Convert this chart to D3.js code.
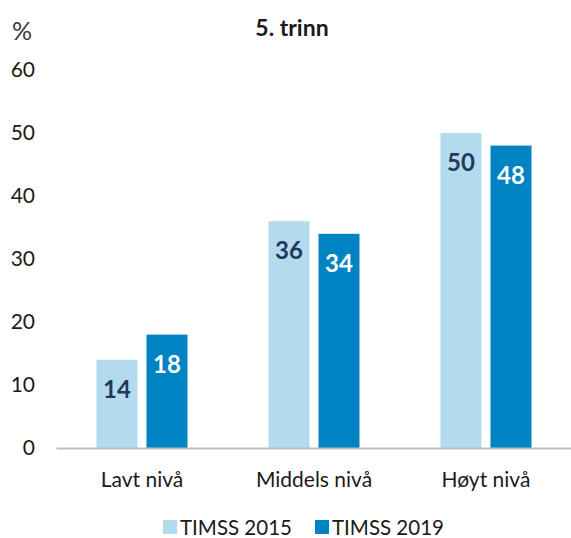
<!DOCTYPE html>
<html>
<head>
<meta charset="utf-8">
<script src="https://cdn.jsdelivr.net/npm/d3@7"></script>
<style>
  html, body { margin: 0; padding: 0; background: #fff; }
  svg { display: block; font-family: Lato, "Open Sans", sans-serif; }
</style>
</head>
<body>
<svg id="chart" width="571" height="538"></svg>
<script>
// Share of pupils per achievement level, 5th grade
const categories = ["Lavt nivå", "Middels nivå", "Høyt nivå"];
const seriesNames = ["TIMSS 2015", "TIMSS 2019"];
const values2015 = [14, 36, 50];
const values2019 = [18, 34, 48];
const yTicks = [0, 10, 20, 30, 40, 50, 60];

const colors = ["#b4daee", "#0083c2"];
const labelColors = ["#1f3a60", "#ffffff"];

const svg = d3.select("#chart");
const baseY = 448;
const topY = 70;
const pairWidth = 91;

const x = d3.scaleBand().domain(categories).range([56, 572]);
const xs = d3.scaleBand().domain(seriesNames).range([0, pairWidth]).paddingInner(0.18);
const y = d3.scaleLinear().domain([0, 60]).range([baseY, topY]);

// Title and unit
svg.append("text").attr("x", 292).attr("y", 36).attr("text-anchor", "middle")
  .attr("font-size", 23).attr("font-weight", "bold").attr("fill", "#1a1a1a").text("5. trinn");
svg.append("text").attr("x", 12).attr("y", 40)
  .attr("font-size", 25).attr("fill", "#3a3a3a").text("%");

// Y axis labels (no line)
const yAxis = d3.axisLeft(y).tickValues(yTicks).tickSize(0).tickPadding(0);
const gy = svg.append("g").attr("transform", "translate(35,0)").call(yAxis);
gy.select(".domain").remove();
gy.selectAll("text").attr("font-size", 21).attr("fill", "#1a1a1a")
  .attr("font-family", "Lato, 'Open Sans', sans-serif");

const series = [values2015, values2019];

// Bars
const groups = svg.append("g");
categories.forEach((cat, i) => {
  const g = groups.append("g").attr("transform", `translate(${x(cat) + (x.bandwidth() - pairWidth) / 2},0)`);
  seriesNames.forEach((s, j) => {
    const v = series[j][i];
    g.append("rect")
      .attr("x", xs(s)).attr("y", y(v))
      .attr("width", xs.bandwidth()).attr("height", baseY - y(v))
      .attr("fill", colors[j]);
    g.append("text")
      .attr("x", xs(s) + xs.bandwidth() / 2).attr("y", y(v) + 38)
      .attr("text-anchor", "middle").attr("font-size", 24).attr("font-weight", "bold")
      .attr("fill", labelColors[j]).text(v);
  });
});

// Baseline and category axis
const xAxis = d3.axisBottom(x).tickSize(0).tickPadding(24);
const gx = svg.append("g").attr("transform", `translate(0,${baseY})`).call(xAxis);
gx.select(".domain").attr("stroke", "#bfbfbf").attr("stroke-width", 2);
gx.selectAll("text").attr("font-size", 21).attr("fill", "#1a1a1a")
  .attr("font-family", "Lato, 'Open Sans', sans-serif");

// Legend
const legendX = [163, 315];
seriesNames.forEach((s, j) => {
  const g = svg.append("g").attr("transform", `translate(${legendX[j]},520)`);
  g.append("rect").attr("width", 14).attr("height", 14).attr("fill", colors[j]);
  g.append("text").attr("x", 17).attr("y", 15).attr("font-size", 20.5)
    .attr("fill", "#1a1a1a").text(s);
});
</script>
</body>
</html>
